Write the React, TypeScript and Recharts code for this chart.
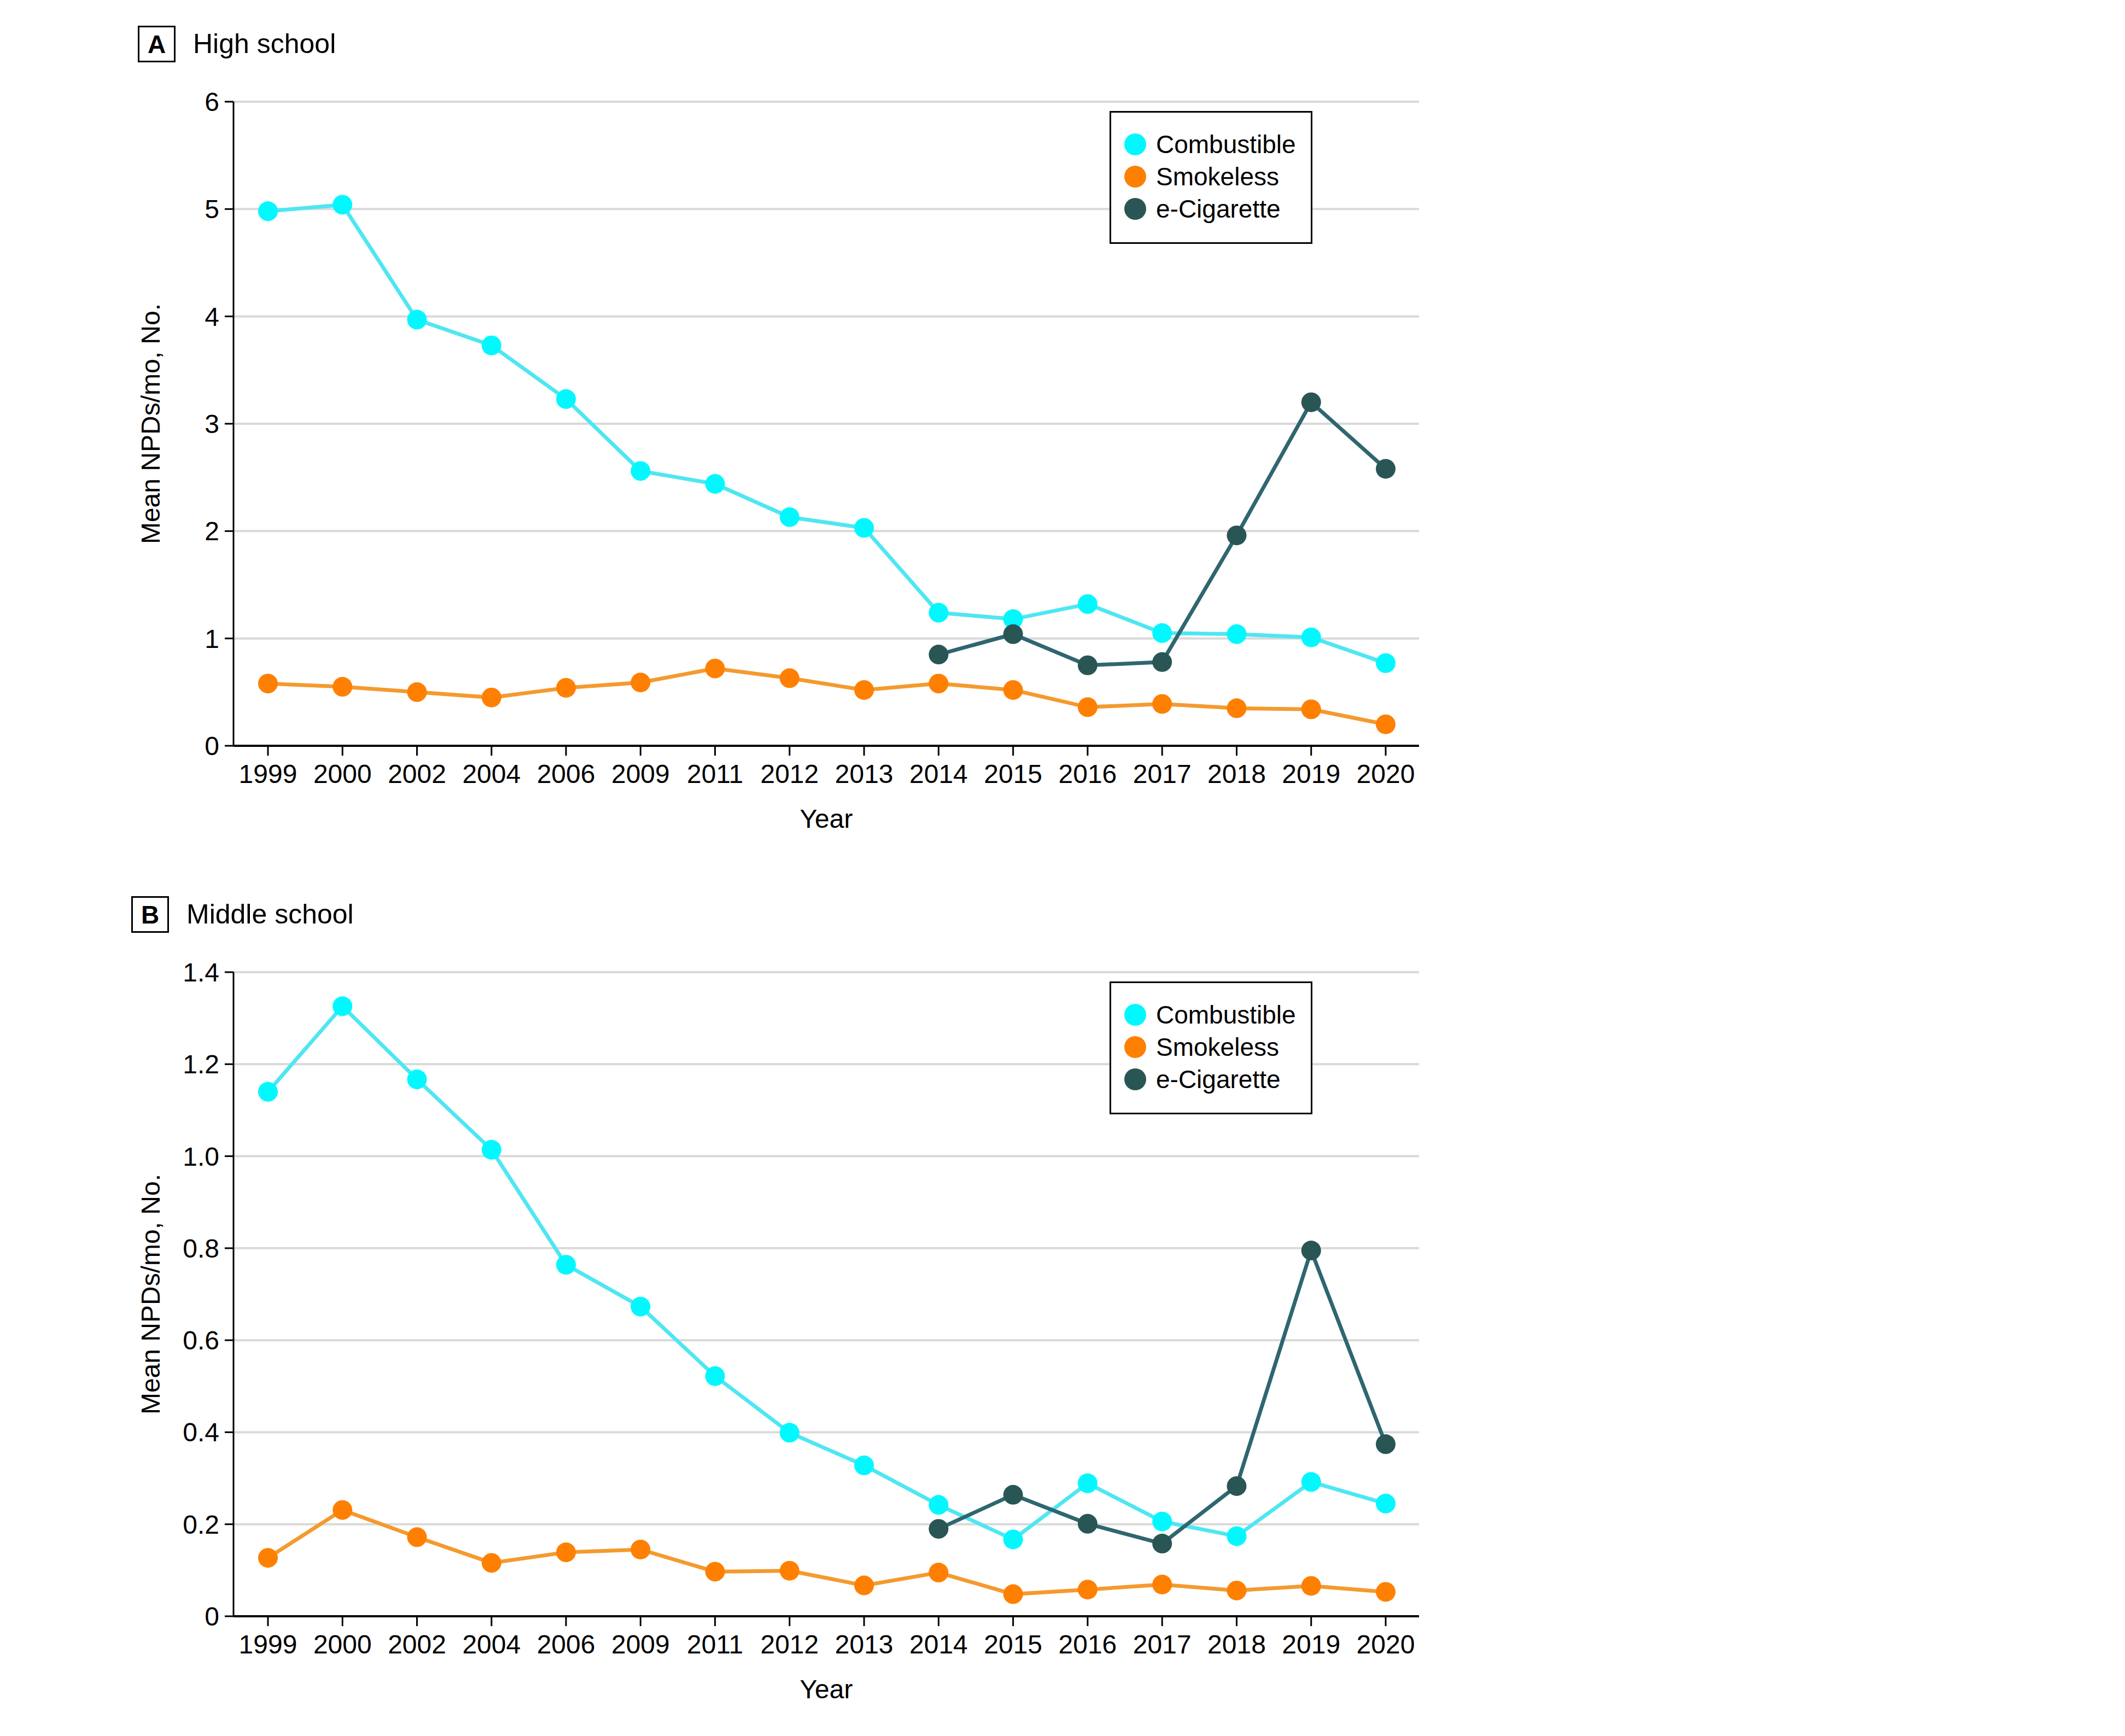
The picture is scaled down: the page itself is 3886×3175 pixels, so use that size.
import React from 'react';
import { LineChart, Line, XAxis, YAxis, CartesianGrid, Legend } from 'recharts';

const YEARS = ['1999', '2000', '2002', '2004', '2006', '2009', '2011', '2012', '2013', '2014', '2015', '2016', '2017', '2018', '2019', '2020'];

const HS_COMBUSTIBLE = [4.98, 5.04, 3.97, 3.73, 3.23, 2.56, 2.44, 2.13, 2.03, 1.24, 1.18, 1.32, 1.05, 1.04, 1.01, 0.77];
const HS_SMOKELESS = [0.58, 0.55, 0.5, 0.45, 0.54, 0.59, 0.72, 0.63, 0.52, 0.58, 0.52, 0.36, 0.39, 0.35, 0.34, 0.2];
const HS_ECIG = [null, null, null, null, null, null, null, null, null, 0.85, 1.04, 0.75, 0.78, 1.96, 3.2, 2.58];

const MS_COMBUSTIBLE = [1.14, 1.326, 1.167, 1.014, 0.764, 0.673, 0.522, 0.399, 0.328, 0.242, 0.167, 0.289, 0.206, 0.174, 0.292, 0.245];
const MS_SMOKELESS = [0.127, 0.231, 0.172, 0.116, 0.139, 0.145, 0.097, 0.099, 0.067, 0.095, 0.048, 0.058, 0.069, 0.056, 0.066, 0.053];
const MS_ECIG = [null, null, null, null, null, null, null, null, null, 0.19, 0.264, 0.201, 0.158, 0.283, 0.795, 0.374];

const HS_TICKS = [0, 1, 2, 3, 4, 5, 6];
const MS_TICKS = [0, 0.2, 0.4, 0.6, 0.8, 1.0, 1.2, 1.4];

const SERIES = [
  { key: 'combustible', name: 'Combustible', line: '#4fe6f3', dot: '#00f8ff' },
  { key: 'smokeless', name: 'Smokeless', line: '#f49a2e', dot: '#ff8000' },
  { key: 'ecig', name: 'e-Cigarette', line: '#2f6670', dot: '#2a5555' },
];

const FONT = '"Liberation Sans", Arial, sans-serif';

const buildRows = (comb: number[], smoke: number[], ecig: (number | null)[]) =>
  YEARS.map((year, i) => ({ year, combustible: comb[i], smokeless: smoke[i], ecig: ecig[i] }));

const LegendBox = () => (
  <div
    style={{
      width: 365,
      height: 237,
      border: '3px solid #000',
      background: '#fff',
      fontFamily: FONT,
      fontSize: 46,
      color: '#000',
      position: 'relative',
    }}
  >
    {SERIES.map((s, i) => (
      <div key={s.key} style={{ position: 'absolute', left: 24, top: 29 + i * 59, height: 58, display: 'flex', alignItems: 'center' }}>
        <span style={{ width: 40, height: 40, borderRadius: '50%', background: s.dot, display: 'inline-block' }} />
        <span style={{ marginLeft: 18 }}>{s.name}</span>
      </div>
    ))}
  </div>
);

const YLabel = ({ viewBox }: any) => {
  const x = viewBox.x - 52;
  const y = viewBox.y + viewBox.height / 2;
  return (
    <text x={x} y={y} transform={`rotate(-90, ${x}, ${y})`} textAnchor="middle" dominantBaseline="central" fontFamily={FONT} fontSize={48} fill="#000">
      Mean NPDs/mo, No.
    </text>
  );
};

const XLabel = ({ viewBox }: any) => {
  const x = viewBox.x + viewBox.width / 2;
  const y = viewBox.y + 133;
  return (
    <text x={x} y={y} textAnchor="middle" dominantBaseline="central" fontFamily={FONT} fontSize={48} fill="#000">
      Year
    </text>
  );
};

interface PanelProps {
  top: number;
  letter: string;
  title: string;
  boxLeft: number;
  data: any[];
  max: number;
  ticks: number[];
  fmt: (v: number) => string;
}

const Panel = ({ top, letter, title, boxLeft, data, max, ticks, fmt }: PanelProps) => (
  <div style={{ position: 'absolute', left: 0, top, width: 2700, height: 1560 }}>
    <div
      style={{
        position: 'absolute',
        left: boxLeft,
        top: 47,
        width: 69,
        height: 67,
        border: '3px solid #000',
        fontFamily: FONT,
        fontWeight: 'bold',
        fontSize: 46,
        display: 'flex',
        alignItems: 'center',
        justifyContent: 'center',
        boxSizing: 'border-box',
      }}
    >
      {letter}
    </div>
    <div style={{ position: 'absolute', left: boxLeft + 101, top: 52, fontFamily: FONT, fontSize: 50, lineHeight: '56px', color: '#000' }}>
      {title}
    </div>
    <div style={{ position: 'absolute', left: 0, top: 0 }}>
      <LineChart width={2700} height={1560} data={data} margin={{ top: 186, right: 105, bottom: 96, left: 327 }}>
        <CartesianGrid vertical={false} stroke="#d9d9d9" strokeWidth={4} />
        <XAxis
          dataKey="year"
          height={100}
          padding={{ left: 63, right: 61 }}
          axisLine={{ stroke: '#000', strokeWidth: 4 }}
          tickLine={{ stroke: '#000', strokeWidth: 3 }}
          tickSize={18}
          tickMargin={16}
          interval={0}
          tick={{ fontFamily: FONT, fontSize: 48, fill: '#000' }}
          label={<XLabel />}
        />
        <YAxis
          width={100}
          domain={[0, max]}
          ticks={ticks}
          tickFormatter={fmt}
          axisLine={{ stroke: '#000', strokeWidth: 3 }}
          tickLine={{ stroke: '#000', strokeWidth: 3 }}
          tickSize={16}
          tickMargin={10}
          tick={{ fontFamily: FONT, fontSize: 48, fill: '#000' }}
          label={<YLabel />}
        />
        <Legend
          verticalAlign="middle"
          align="center"
          layout="horizontal"
          wrapperStyle={{ left: 2029, top: 203, width: 371, height: 243 }}
          content={() => <LegendBox />}
        />
        {SERIES.map((s) => (
          <Line
            key={s.key}
            dataKey={s.key}
            name={s.name}
            stroke={s.line}
            strokeWidth={7}
            dot={{ r: 18, fill: s.dot, stroke: 'none' }}
            activeDot={false}
            connectNulls={false}
            isAnimationActive={false}
          />
        ))}
      </LineChart>
    </div>
  </div>
);

const App = () => {
  const hs = buildRows(HS_COMBUSTIBLE, HS_SMOKELESS, HS_ECIG);
  const ms = buildRows(MS_COMBUSTIBLE, MS_SMOKELESS, MS_ECIG);
  return (
    <div style={{ position: 'absolute', left: 0, top: 0, width: 3886, height: 3175, background: '#fff' }}>
      <Panel top={0} letter="A" title="High school" boxLeft={252} data={hs} max={6} ticks={HS_TICKS} fmt={(v) => String(v)} />
      <Panel
        top={1592}
        letter="B"
        title="Middle school"
        boxLeft={240}
        data={ms}
        max={1.4}
        ticks={MS_TICKS}
        fmt={(v) => (v === 0 ? '0' : v.toFixed(1))}
      />
    </div>
  );
};

export default App;
